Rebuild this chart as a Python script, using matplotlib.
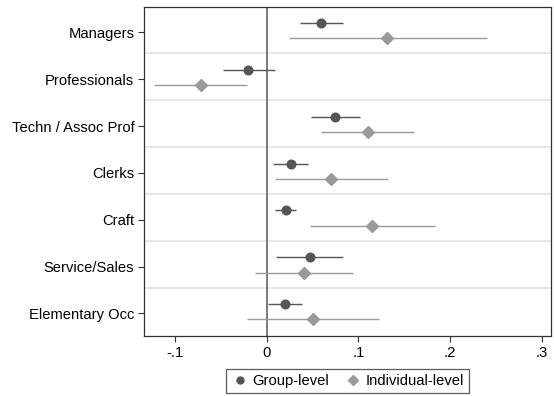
import numpy as np
import matplotlib
matplotlib.use("Agg")
import matplotlib.pyplot as plt
from matplotlib.lines import Line2D

plt.rcParams['font.family'] = ['Liberation Sans', 'DejaVu Sans']

# Occupation coefficients with 95% confidence intervals
occupations = ['Managers', 'Professionals', 'Techn / Assoc Prof', 'Clerks',
               'Craft', 'Service/Sales', 'Elementary Occ']

group_coef = [0.059, -0.020, 0.075, 0.026, 0.021, 0.047, 0.020]
group_lo = [0.036, -0.048, 0.048, 0.007, 0.009, 0.0105, 0.001]
group_hi = [0.083, 0.009, 0.102, 0.045, 0.032, 0.0835, 0.038]

indiv_coef = [0.131, -0.072, 0.110, 0.0705, 0.115, 0.041, 0.051]
indiv_lo = [0.024, -0.123, 0.059, 0.009, 0.047, -0.013, -0.021]
indiv_hi = [0.240, -0.021, 0.161, 0.132, 0.183, 0.094, 0.123]

xticks = [-0.1, 0, 0.1, 0.2, 0.3]
xtick_labels = ['-.1', '0', '.1', '.2', '.3']

dark = '#555555'
light = '#9a9a9a'
fs = 10.6

fig = plt.figure(figsize=(5.54, 3.96), dpi=100)
ax = fig.add_axes([0.26, 0.152, 0.734, 0.830])

pos = np.arange(1, len(occupations) + 1)
y_group = pos - 0.2
y_indiv = pos + 0.13

# separators between categories
for p in pos[:-1]:
    ax.axhline(p + 0.45, color='#e6e6e6', lw=1.3, zorder=0)

ax.axvline(0, color=dark, lw=1.1, zorder=1)

ax.hlines(y_group, group_lo, group_hi, color=dark, lw=1.0, zorder=2)
ax.plot(group_coef, y_group, 'o', color=dark, ms=6.2, zorder=3)

ax.hlines(y_indiv, indiv_lo, indiv_hi, color=light, lw=1.0, zorder=2)
ax.plot(indiv_coef, y_indiv, 'D', color=light, ms=6.2, zorder=3)

ax.set_xlim(-0.1338, 0.3097)
ax.set_ylim(7.48, 0.46)
ax.set_yticks(pos)
ax.set_yticklabels(occupations, fontsize=fs)
ax.set_xticks(xticks)
ax.set_xticklabels(xtick_labels, fontsize=fs)
ax.tick_params(axis='both', length=4, width=0.8, color='#333333', pad=3)
for s in ax.spines.values():
    s.set_color('#333333')
    s.set_linewidth(0.9)

handles = [
    Line2D([], [], marker='o', ls='none', color=dark, ms=5, label='Group-level'),
    Line2D([], [], marker='D', ls='none', color=light, ms=5, label='Individual-level'),
]
leg = fig.legend(handles=handles, loc='upper center', bbox_to_anchor=(0.628, 0.088),
                 ncol=2, fontsize=fs, frameon=True, fancybox=False,
                 handletextpad=0.3, columnspacing=1.1, handlelength=1.1,
                 borderpad=0.35)
leg.get_frame().set_edgecolor('#333333')
leg.get_frame().set_linewidth(0.9)

fig.savefig('out.png', dpi=100)
